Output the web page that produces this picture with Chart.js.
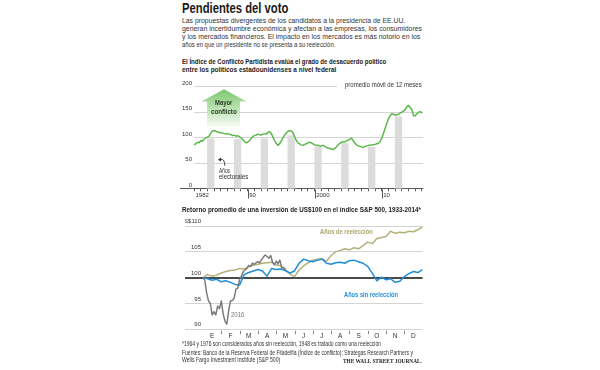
<!DOCTYPE html>
<html><head><meta charset="utf-8">
<script src="https://cdn.jsdelivr.net/npm/chart.js"></script>
<style>
html,body{margin:0;padding:0;background:#fff;}
body{width:600px;height:370px;position:relative;overflow:hidden;}
.t{position:absolute;white-space:nowrap;transform-origin:0 0;line-height:1;}
.cw{position:absolute;}
</style></head><body>
<div class="cw" style="left:176px;top:78px;width:250px;height:125px;"><canvas id="c1" width="250" height="125"></canvas></div>
<div class="cw" style="left:176px;top:215px;width:250px;height:130px;"><canvas id="c2" width="250" height="130"></canvas></div>
<script>
// ---------------- DATA ----------------
// Partisan Conflict Index, 12-month moving average, quarterly readings from 1982.0
const conflictStartYear = 1982;
const conflictStep = 0.25;
const conflictIndex = [
  86, 88, 91, 90, 94, 93, 97, 100,
  101, 103, 109, 113, 114, 113, 111, 110,
  110, 109, 108, 107, 108, 107, 106, 104,
  105, 103, 104, 102, 100, 97, 93, 90,
  91, 94, 98, 102, 104, 105, 107, 106,
  105, 107, 108, 107, 110, 112, 109, 102,
  95, 89, 85, 88, 93, 99, 105, 109,
  112, 114, 113, 110, 102, 95, 90, 88,
  86, 85, 87, 88, 90, 91, 90, 88,
  86, 85, 85, 84, 84, 85, 83, 81,
  80, 79, 78, 77, 79, 82, 86, 89,
  91, 92, 92, 94, 95, 97, 99, 94,
  89, 86, 84, 83, 82, 81, 83, 84,
  85, 85, 86, 86, 87, 88, 89, 92,
  99, 108, 118, 128, 137, 143, 147, 146,
  144, 145, 146, 148, 150, 152, 155, 161,
  163, 159, 155, 143, 143, 147, 150, 151,
  148
];
const electionYears = [1984, 1988, 1992, 1996, 2000, 2004, 2008, 2012];
const electionBarHeights = [98, 97, 98, 104, 82, 89, 81, 141];
const conflictYTicks = [0, 50, 100, 150, 200];
const conflictXLabelYears = [1982, 1990, 2000, 2010];
const conflictXLabels = ['1982', '90', '2000', '10'];
const majorTickYears = [1990, 2000, 2010];

// S&P 500: average return of US$100, by month of year
const months = ['E', 'F', 'M', 'A', 'M', 'J', 'J', 'A', 'S', 'O', 'N', 'D'];
const seriesStep = 0.25;      // months between readings
const reelection = [
  100, 100.6, 100.3, 100.5, 100.9, 101.2, 101.4, 101.5, 101.8, 101.7,
  102.1, 102.4, 102.6, 102.8, 102.9, 103.0, 102.5, 102.3, 101.6, 100.7,
  100.2, 101.5, 102.3, 102.9, 103.4, 103.6, 103.7, 103.2, 104.3, 105.0,
  105.3, 105.6, 105.4, 105.8, 105.6, 106.2, 106.9, 106.6, 107.6, 107.8,
  108.0, 109.0, 108.6, 108.8, 108.7, 109.0, 108.9, 109.3, 109.8
];
const noReelection = [
  100, 99.8, 99.5, 99.7, 99.2, 99.4, 99.1, 98.7, 98.6, 100.6,
  101.0, 101.3, 101.6, 101.3, 100.3, 101.8, 101.6, 101.7, 101.4, 100.9,
  101.3, 102.8, 103.6, 103.3, 103.1, 103.4, 103.6, 102.8, 102.6, 102.9,
  103.0, 102.8, 103.3, 103.4, 103.1, 102.8, 102.2, 100.9, 99.4, 100.1,
  99.6, 99.8, 99.1, 99.3, 100.2, 100.8, 101.2, 101.0, 101.6
];
const step2016 = 0.1;
const year2016 = [
  100, 99.5, 97, 95.5, 95, 92.8, 93.4, 92.8, 94.5, 94.0,
  95.5, 93.0, 91.6, 91.0, 93.5, 95.5, 95.6, 96.0, 97.8, 98.0,
  99.7, 100.3, 101.2, 101.5, 101.8, 102.4, 102.2, 102.8, 102.6, 102.9,
  103.1, 102.9, 103.5, 104.0, 104.4, 104.1, 103.8, 104.3, 103.0, 102.5,
  103.2, 102.7, 103.4, 101.9, 102.0, 101.6
];
const spTicks = [90, 95, 100, 105, 110];
const spTickLabels = ['90', '95', '100', '105', 'US$110'];

// ---------------- STYLE ----------------
const FONT_UI = '"Liberation Sans Narrow","Liberation Sans",Arial,sans-serif';
const FONT_TICK = '"Liberation Sans",Arial,sans-serif';
const GRID = '#d4d4d4';
const AXIS = '#5a5a5a';
const GREEN = '#5bb94a';
const OLIVE = '#b3b07a';
const BLUE = '#1f8ed8';
const GRAY = '#7b7b7b';

// ---------------- TOP CHART ----------------
const allYears = [];
for (let y = conflictStartYear; y <= 2016; y++) allYears.push(y);

const conflictPlugin = {
  id: 'conflictDecor',
  beforeDatasetsDraw(chart) {
    const {ctx, scales: {x, y}} = chart;
    // "Mayor conflicto" arrow
    const tipX = x.getPixelForValue(1986.47), tipY = y.getPixelForValue(195);
    const baseY = y.getPixelForValue(171);
    const hL = x.getPixelForValue(1983.1), hR = x.getPixelForValue(1989.83);
    const sL = x.getPixelForValue(1983.95), sR = x.getPixelForValue(1988.85);
    const botY = y.getPixelForValue(118);
    const g = ctx.createLinearGradient(0, tipY, 0, botY);
    g.addColorStop(0, '#79c46b');
    g.addColorStop((baseY - tipY) / (botY - tipY), '#a3d898');
    g.addColorStop(0.75, '#dcf0d7');
    g.addColorStop(1, '#ffffff');
    ctx.save();
    ctx.fillStyle = g;
    ctx.beginPath();
    ctx.moveTo(tipX, tipY);
    ctx.lineTo(hR, baseY);
    ctx.lineTo(sR, baseY);
    ctx.lineTo(sR, botY);
    ctx.lineTo(sL, botY);
    ctx.lineTo(sL, baseY);
    ctx.lineTo(hL, baseY);
    ctx.closePath();
    ctx.fill();
    ctx.restore();
  },
  afterDraw(chart) {
    const {ctx, scales: {x, y}, chartArea} = chart;
    ctx.save();
    ctx.strokeStyle = AXIS;
    ctx.lineWidth = 1;
    // extend axis line to the left
    const y0 = Math.round(y.getPixelForValue(0)) + 0.5;
    // decade ticks
    majorTickYears.forEach(v => {
      const px = Math.round(x.getPixelForValue(v)) + 0.5;
      ctx.beginPath();
      ctx.moveTo(px, y0);
      ctx.lineTo(px, y0 + 9);
      ctx.stroke();
    });
    // "Años electorales" curved pointer
    const ax = x.getPixelForValue(1986.6), ay = y.getPixelForValue(45);
    const cx = x.getPixelForValue(1986.6), cy = y.getPixelForValue(58.5);
    const ex = x.getPixelForValue(1985.75), ey = y.getPixelForValue(57.5);
    ctx.strokeStyle = '#333';
    ctx.lineWidth = 0.9;
    ctx.beginPath();
    ctx.moveTo(ax, ay);
    ctx.quadraticCurveTo(cx, cy, ex + 1.5, ey);
    ctx.stroke();
    ctx.fillStyle = '#333';
    ctx.beginPath();
    ctx.moveTo(ex - 1.2, ey + 0.3);
    ctx.lineTo(ex + 2, ey - 1.8);
    ctx.lineTo(ex + 1.8, ey + 2);
    ctx.closePath();
    ctx.fill();
    ctx.restore();
  }
};

new Chart(document.getElementById('c1'), {
  type: 'bar',
  data: {
    datasets: [
      {
        type: 'line',
        data: conflictIndex.map((v, i) => ({x: conflictStartYear + i * conflictStep, y: v})),
        borderColor: GREEN, borderWidth: 1.5, pointRadius: 0, tension: 0,
        borderJoinStyle: 'round', order: 0
      },
      {
        type: 'bar',
        data: electionYears.map((yr, i) => ({x: yr + 0.5, y: electionBarHeights[i]})),
        backgroundColor: '#dcdcdc', borderWidth: 0,
        barPercentage: 1, categoryPercentage: 1, order: 1
      }
    ]
  },
  options: {
    responsive: false, animation: false, devicePixelRatio: 1,
    layout: {padding: {left: 4, right: 2.7, top: 8.6, bottom: 0}},
    plugins: {legend: {display: false}, tooltip: {enabled: false}},
    scales: {
      x: {
        type: 'linear', min: 1982, max: 2016.2, offset: false,
        afterBuildTicks: s => { s.ticks = allYears.map(v => ({value: v})); },
        afterFit: s => { s.height = 14.2; },
        grid: {drawOnChartArea: false, drawTicks: true, tickLength: 2.5, color: AXIS, tickColor: AXIS, offset: false},
        border: {display: false},
        ticks: {
          autoSkip: false, maxRotation: 0, minRotation: 0, align: 'start', labelOffset: 1.5, padding: 0.5,
          color: '#333', font: {size: 6, family: FONT_TICK},
          callback: v => { const k = conflictXLabelYears.indexOf(v); return k >= 0 ? conflictXLabels[k] : ''; }
        }
      },
      y: {
        min: 0, max: 200, position: 'left',
        afterBuildTicks: s => { s.ticks = conflictYTicks.map(v => ({value: v})); },
        afterFit: s => { s.width = 14; },
        grid: {
          color: c => (c.tick && c.tick.value === 0) ? AXIS : GRID,
          tickColor: c => (c.tick && c.tick.value === 0) ? AXIS : 'rgba(0,0,0,0)',
          drawTicks: true, tickLength: 14, lineWidth: 1
        },
        border: {display: false},
        ticks: {
          padding: -12, labelOffset: -3.5, crossAlign: 'near',
          color: '#333', font: {size: 6, family: FONT_TICK},
          callback: v => String(v)
        }
      }
    }
  },
  plugins: [conflictPlugin]
});

// ---------------- BOTTOM CHART ----------------
const monthTickPlugin = {
  id: 'monthTicks',
  afterDraw(chart) {
    const {ctx, scales: {x}, chartArea} = chart;
    ctx.save();
    ctx.strokeStyle = '#888';
    ctx.lineWidth = 1;
    for (let k = 1; k < months.length; k++) {
      const px = Math.round(x.getPixelForValue(k)) + 0.5;
      ctx.beginPath();
      ctx.moveTo(px, chartArea.bottom + 1.5);
      ctx.lineTo(px, chartArea.bottom + 5);
      ctx.stroke();
    }
    ctx.restore();
  }
};
const toPoints = (arr, step) => arr.map((v, i) => ({x: i * step, y: v}));

new Chart(document.getElementById('c2'), {
  type: 'line',
  data: {
    datasets: [
      {label: '2016', data: toPoints(year2016, step2016), borderColor: GRAY, borderWidth: 1.5, pointRadius: 0, tension: 0, borderJoinStyle: 'round'},
      {label: 'Años sin reelección', data: toPoints(noReelection, seriesStep), borderColor: BLUE, borderWidth: 1.5, pointRadius: 0, tension: 0, borderJoinStyle: 'round'},
      {label: 'Años de reelección', data: toPoints(reelection, seriesStep), borderColor: OLIVE, borderWidth: 1.5, pointRadius: 0, tension: 0, borderJoinStyle: 'round'}
    ]
  },
  options: {
    responsive: false, animation: false, devicePixelRatio: 1,
    layout: {padding: {left: 9, right: 3.4, top: 11.1, bottom: 0}},
    plugins: {legend: {display: false}, tooltip: {enabled: false}},
    scales: {
      x: {
        type: 'linear', min: 0, max: 12, offset: false,
        afterBuildTicks: s => { s.ticks = months.map((m, i) => ({value: i + 0.5})); },
        afterFit: s => { s.height = 15.7; },
        grid: {display: false, drawTicks: false},
        border: {display: false},
        ticks: {
          autoSkip: false, maxRotation: 0, minRotation: 0, padding: 2.6,
          color: '#333', font: {size: 6.5, family: FONT_TICK},
          callback: v => months[Math.round(v - 0.5)]
        }
      },
      y: {
        min: 90, max: 110, position: 'left',
        afterBuildTicks: s => { s.ticks = spTicks.map(v => ({value: v})); },
        afterFit: s => { s.width = 18; },
        grid: {
          color: c => (c.tick && c.tick.value === 100) ? '#4a4a4a' : GRID,
          tickColor: c => (c.tick && c.tick.value === 100) ? '#4a4a4a' : GRID,
          lineWidth: c => (c.tick && c.tick.value === 100) ? 2 : 1,
          tickWidth: c => (c.tick && c.tick.value === 100) ? 2 : 1,
          drawTicks: true, tickLength: 18
        },
        border: {display: false},
        ticks: {
          padding: -16, labelOffset: -4.5, crossAlign: 'near',
          color: '#333', font: {size: 6, family: FONT_TICK},
          callback: v => spTickLabels[spTicks.indexOf(v)]
        }
      }
    }
  },
  plugins: [monthTickPlugin]
});

// ---------------- TEXT ----------------
function addText(str, o) {
  const d = document.createElement('div');
  d.className = 't';
  d.textContent = str;
  d.style.fontSize = o.fs + 'px';
  d.style.fontWeight = o.bold ? '700' : '400';
  d.style.color = o.color || '#333';
  d.style.fontFamily = o.family || FONT_UI;
  document.body.appendChild(d);
  const nat = d.getBoundingClientRect().width;
  const k = o.w / nat;
  const left = o.align === 'center' ? o.x - o.w / 2 : o.x;
  d.style.left = left + 'px';
  d.style.top = (o.base - (o.asc || 0.8465) * o.fs) + 'px';
  d.style.transform = 'scaleX(' + k + ')';
  return d;
}
function addMask(l, t, w, h) {
  const m = document.createElement('div');
  m.style.cssText = 'position:absolute;background:#fff;left:' + l + 'px;top:' + t + 'px;width:' + w + 'px;height:' + h + 'px;';
  document.body.appendChild(m);
}

addText('Pendientes del voto', {x: 181.7, base: 13.3, w: 106.3, fs: 14, bold: true, color: '#1a1a1a'});
addText('Las propuestas divergentes de los candidatos a la presidencia de EE.UU.', {x: 181.7, base: 23.3, w: 223.3, fs: 8});
addText('generan incertidumbre económica y afectan a las empresas, los consumidores', {x: 181.7, base: 31.6, w: 240, fs: 8});
addText('y los mercados financieros. El impacto en los mercados es más notorio en los', {x: 181.7, base: 39.9, w: 238.3, fs: 8});
addText('años en que un presidente no se presenta a su reelección.', {x: 181.7, base: 48.2, w: 153.3, fs: 8});
addText('El Índice de Conflicto Partidista evalúa el grado de desacuerdo político', {x: 181.7, base: 65, w: 204.3, fs: 7.8, bold: true, color: '#222'});
addText('entre los políticos estadounidenses a nivel federal', {x: 181.7, base: 72.6, w: 154.3, fs: 7.8, bold: true, color: '#222'});

addMask(337, 83.5, 88, 5);
addText('promedio móvil de 12 meses', {x: 345, base: 86.5, w: 76.7, fs: 7, color: '#333'});
addText('Mayor', {x: 223.7, base: 104.7, w: 17.3, fs: 7, bold: true, color: '#2d3a2b', align: 'center'});
addText('conflicto', {x: 223.8, base: 113.8, w: 25.7, fs: 7, bold: true, color: '#2d3a2b', align: 'center'});
addText('Años', {x: 219, base: 172.5, w: 11, fs: 7, color: '#333'});
addText('electorales', {x: 219, base: 179, w: 29.3, fs: 7, color: '#333'});

addText('Retorno promedio de una inversión de US$100 en el índice S&P 500, 1933-2014*', {x: 181.7, base: 212.3, w: 239, fs: 7.8, bold: true, color: '#222'});
addText('Años de reelección', {x: 320, base: 234.3, w: 52.7, fs: 7, bold: true, color: '#aaa66c'});
addText('Años sin reelección', {x: 344.3, base: 297, w: 54, fs: 7, bold: true, color: BLUE});
addText('2016', {x: 231.3, base: 317.3, w: 13.4, fs: 7, color: '#777'});

addText('*1964 y 1976 son considerados años sin reelección, 1948 es tratado como una reelección', {x: 181.7, base: 346.5, w: 199, fs: 6.3});
addText('Fuentes: Banco de la Reserva Federal de Filadelfia (Índice de conflicto); Strategas Research Partners y', {x: 181.7, base: 355.5, w: 231, fs: 6.3});
addText('Wells Fargo Investment Institute (S&P 500)', {x: 181.7, base: 362.3, w: 98.3, fs: 6.3});
addText('THE WALL STREET JOURNAL.', {x: 343.3, base: 363.5, w: 79, fs: 6.5, bold: true, color: '#222', family: '"Liberation Serif","Times New Roman",serif', asc: 0.8375});
</script>
</body></html>
